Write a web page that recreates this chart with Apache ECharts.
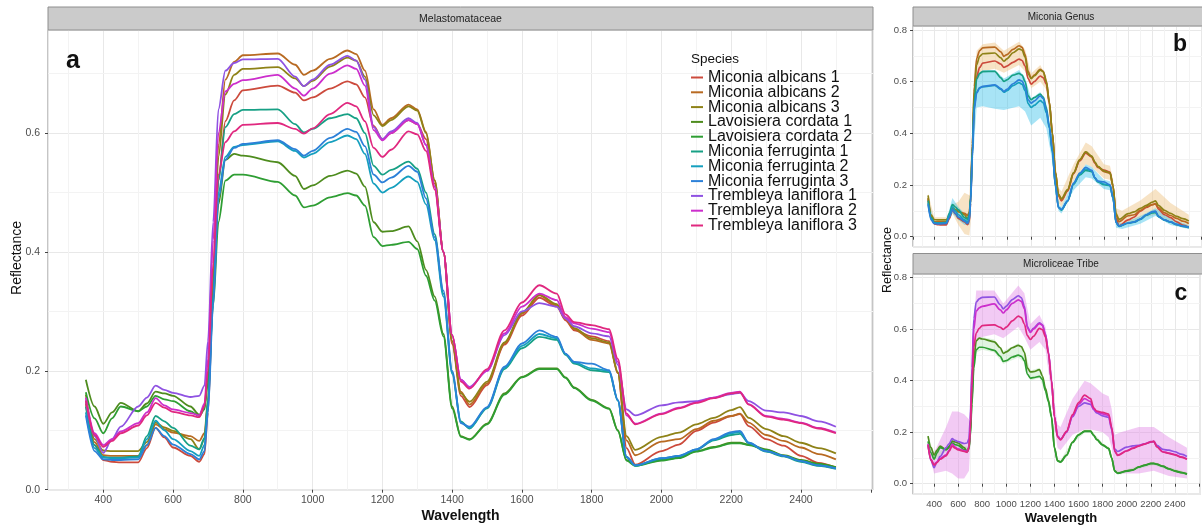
<!DOCTYPE html>
<html><head><meta charset="utf-8">
<script src="https://cdn.jsdelivr.net/npm/echarts@6/dist/echarts.min.js"></script>
<style>html,body{margin:0;padding:0;background:#fff}#c{width:1202px;height:527px}</style>
</head><body><div id="c"></div>
<script>
// ---------- DATA ----------
const wavelengths = [350,375,400,425,450,500,525,550,575,600,650,675,690,700,715,730,750,775,800,900,950,975,1000,1050,1100,1125,1150,1175,1200,1225,1275,1300,1325,1350,1375,1400,1425,1450,1500,1550,1600,1650,1700,1725,1750,1800,1850,1875,1900,1925,2000,2050,2100,2150,2200,2225,2250,2300,2350,2400,2450,2500];

const speciesNames = ['Miconia albicans 1','Miconia albicans 2','Miconia albicans 3','Lavoisiera cordata 1','Lavoisiera cordata 2','Miconia ferruginta 1','Miconia ferruginta 2','Miconia ferruginta 3','Trembleya laniflora 1','Trembleya laniflora 2','Trembleya laniflora 3'];
const speciesColors = ['#CC4A3C','#B86A22','#8E8217','#4E8C1E','#2E9E33','#17A085','#159FBE','#2C80D8','#8F52E2','#CC2ECC','#E0287F'];

const micAlb1 = [0.145,0.075,0.050,0.047,0.046,0.046,0.070,0.104,0.088,0.071,0.057,0.047,0.060,0.130,0.330,0.520,0.620,0.655,0.672,0.680,0.668,0.655,0.660,0.675,0.687,0.682,0.660,0.612,0.590,0.600,0.622,0.615,0.590,0.515,0.400,0.245,0.158,0.139,0.176,0.244,0.293,0.323,0.308,0.285,0.268,0.258,0.250,0.196,0.070,0.042,0.065,0.076,0.099,0.113,0.124,0.127,0.107,0.085,0.074,0.057,0.045,0.037];
const micAlb2 = [0.150,0.080,0.058,0.057,0.057,0.057,0.075,0.110,0.102,0.096,0.090,0.082,0.095,0.150,0.360,0.580,0.690,0.720,0.731,0.734,0.715,0.698,0.705,0.725,0.739,0.733,0.705,0.640,0.614,0.625,0.648,0.640,0.602,0.521,0.400,0.250,0.165,0.143,0.179,0.246,0.296,0.327,0.310,0.287,0.270,0.252,0.246,0.196,0.083,0.058,0.081,0.085,0.102,0.116,0.124,0.128,0.113,0.092,0.082,0.071,0.060,0.051];
const micAlb3 = [0.160,0.085,0.066,0.065,0.065,0.065,0.080,0.113,0.105,0.099,0.085,0.068,0.085,0.145,0.350,0.560,0.665,0.698,0.708,0.711,0.692,0.679,0.688,0.712,0.727,0.722,0.695,0.630,0.612,0.622,0.645,0.638,0.600,0.520,0.400,0.250,0.162,0.148,0.182,0.248,0.298,0.328,0.312,0.290,0.272,0.255,0.248,0.198,0.090,0.067,0.089,0.096,0.110,0.121,0.134,0.139,0.121,0.102,0.090,0.079,0.070,0.061];
const lavCor1 = [0.185,0.140,0.111,0.130,0.146,0.132,0.145,0.165,0.162,0.158,0.140,0.126,0.140,0.190,0.330,0.480,0.555,0.565,0.562,0.551,0.528,0.506,0.512,0.528,0.537,0.532,0.510,0.450,0.434,0.435,0.443,0.418,0.370,0.325,0.262,0.140,0.090,0.085,0.111,0.162,0.190,0.204,0.204,0.189,0.172,0.151,0.137,0.100,0.050,0.041,0.050,0.054,0.065,0.072,0.079,0.079,0.076,0.068,0.058,0.050,0.044,0.038];
const lavCor2 = [0.164,0.120,0.095,0.120,0.140,0.132,0.140,0.158,0.152,0.149,0.132,0.124,0.135,0.180,0.310,0.450,0.520,0.530,0.530,0.518,0.495,0.475,0.478,0.492,0.499,0.495,0.478,0.425,0.410,0.412,0.417,0.405,0.360,0.318,0.258,0.137,0.089,0.084,0.110,0.160,0.189,0.203,0.203,0.188,0.171,0.150,0.136,0.099,0.049,0.040,0.049,0.053,0.064,0.071,0.078,0.078,0.075,0.067,0.057,0.049,0.043,0.037];
const micFer1 = [0.140,0.075,0.055,0.054,0.054,0.056,0.090,0.124,0.115,0.104,0.074,0.068,0.087,0.150,0.330,0.520,0.610,0.632,0.639,0.640,0.615,0.601,0.607,0.625,0.632,0.625,0.600,0.545,0.530,0.538,0.552,0.540,0.500,0.430,0.330,0.198,0.115,0.103,0.137,0.203,0.238,0.257,0.252,0.227,0.212,0.201,0.198,0.150,0.055,0.040,0.052,0.056,0.067,0.083,0.092,0.094,0.078,0.064,0.056,0.047,0.040,0.035];
const micFer2 = [0.130,0.070,0.054,0.053,0.053,0.054,0.085,0.116,0.100,0.085,0.065,0.057,0.075,0.140,0.320,0.500,0.560,0.577,0.580,0.586,0.570,0.559,0.565,0.585,0.596,0.590,0.565,0.515,0.500,0.508,0.527,0.518,0.480,0.420,0.325,0.195,0.113,0.104,0.138,0.205,0.242,0.262,0.255,0.228,0.214,0.204,0.200,0.150,0.055,0.041,0.053,0.057,0.068,0.084,0.095,0.097,0.079,0.065,0.057,0.048,0.041,0.036];
const micFer3 = [0.125,0.065,0.051,0.050,0.050,0.051,0.075,0.104,0.090,0.076,0.060,0.051,0.065,0.130,0.310,0.490,0.555,0.575,0.582,0.588,0.573,0.562,0.570,0.592,0.607,0.602,0.578,0.530,0.517,0.525,0.545,0.535,0.490,0.425,0.335,0.200,0.112,0.106,0.139,0.207,0.246,0.268,0.257,0.229,0.215,0.212,0.201,0.151,0.055,0.041,0.053,0.057,0.068,0.085,0.097,0.099,0.079,0.065,0.057,0.048,0.041,0.036];
const treLan1 = [0.150,0.090,0.062,0.085,0.106,0.140,0.155,0.175,0.168,0.163,0.156,0.158,0.175,0.250,0.450,0.640,0.705,0.718,0.724,0.725,0.695,0.679,0.690,0.715,0.730,0.722,0.690,0.610,0.590,0.603,0.625,0.617,0.580,0.510,0.400,0.260,0.185,0.173,0.200,0.260,0.300,0.314,0.308,0.288,0.275,0.263,0.258,0.210,0.135,0.125,0.142,0.147,0.149,0.155,0.161,0.163,0.149,0.133,0.130,0.124,0.115,0.106];
const treLan2 = [0.155,0.095,0.075,0.085,0.098,0.112,0.130,0.154,0.142,0.135,0.129,0.125,0.145,0.220,0.420,0.600,0.670,0.683,0.689,0.698,0.675,0.663,0.675,0.700,0.714,0.708,0.680,0.605,0.588,0.600,0.622,0.615,0.580,0.510,0.400,0.260,0.185,0.172,0.200,0.263,0.308,0.330,0.319,0.290,0.280,0.271,0.265,0.215,0.125,0.111,0.128,0.138,0.147,0.155,0.163,0.165,0.144,0.124,0.119,0.113,0.104,0.096];
const treLan3 = [0.150,0.092,0.072,0.082,0.095,0.108,0.125,0.146,0.138,0.131,0.125,0.122,0.140,0.200,0.380,0.530,0.585,0.603,0.614,0.617,0.607,0.599,0.608,0.632,0.651,0.645,0.620,0.575,0.560,0.572,0.603,0.598,0.570,0.505,0.400,0.260,0.182,0.170,0.203,0.268,0.315,0.344,0.330,0.295,0.282,0.277,0.270,0.220,0.128,0.110,0.127,0.137,0.146,0.154,0.162,0.164,0.143,0.123,0.118,0.112,0.103,0.095];

// ribbons (panels b and c)
const bandWavelengths = [350,400,500,550,600,650,690,700,720,750,800,900,975,1100,1150,1200,1275,1325,1375,1400,1425,1450,1550,1650,1700,1800,1850,1875,1900,1950,2100,2225,2350,2500];
const albLower = [0.135,0.050,0.045,0.090,0.045,0.010,0.005,0.050,0.330,0.600,0.640,0.650,0.635,0.665,0.640,0.575,0.600,0.570,0.370,0.220,0.130,0.115,0.215,0.280,0.270,0.225,0.220,0.170,0.055,0.040,0.070,0.085,0.060,0.035];
const albUpper = [0.168,0.075,0.075,0.125,0.135,0.170,0.160,0.250,0.500,0.720,0.745,0.752,0.720,0.755,0.725,0.632,0.665,0.620,0.430,0.280,0.190,0.175,0.280,0.365,0.350,0.280,0.275,0.220,0.110,0.100,0.140,0.185,0.130,0.085];
const ferLower = [0.120,0.045,0.045,0.090,0.065,0.045,0.045,0.090,0.300,0.500,0.505,0.495,0.490,0.505,0.485,0.430,0.460,0.420,0.290,0.170,0.100,0.090,0.180,0.230,0.225,0.185,0.180,0.130,0.035,0.030,0.050,0.080,0.045,0.030];
const ferUpper = [0.145,0.060,0.062,0.150,0.115,0.090,0.090,0.170,0.450,0.625,0.645,0.645,0.612,0.645,0.615,0.535,0.560,0.510,0.340,0.215,0.125,0.115,0.215,0.280,0.270,0.220,0.215,0.165,0.065,0.050,0.080,0.110,0.070,0.045];
const treLower = [0.135,0.040,0.050,0.040,0.020,0.020,0.050,0.150,0.380,0.550,0.570,0.580,0.565,0.610,0.570,0.520,0.550,0.520,0.350,0.220,0.140,0.130,0.190,0.210,0.210,0.200,0.180,0.140,0.050,0.040,0.040,0.050,0.030,0.020];
const treUpper = [0.170,0.120,0.220,0.280,0.280,0.270,0.250,0.300,0.550,0.750,0.750,0.750,0.700,0.770,0.740,0.620,0.655,0.610,0.450,0.320,0.230,0.220,0.330,0.400,0.390,0.350,0.340,0.290,0.190,0.200,0.220,0.220,0.180,0.140];
const lavLower = [0.158,0.090,0.125,0.150,0.142,0.125,0.128,0.170,0.360,0.510,0.520,0.510,0.465,0.490,0.470,0.400,0.410,0.355,0.250,0.130,0.085,0.078,0.155,0.197,0.197,0.145,0.130,0.095,0.044,0.036,0.058,0.072,0.051,0.032];
const lavUpper = [0.190,0.115,0.140,0.170,0.165,0.145,0.145,0.200,0.420,0.565,0.570,0.560,0.515,0.545,0.520,0.440,0.450,0.375,0.268,0.148,0.095,0.092,0.168,0.210,0.210,0.157,0.143,0.105,0.056,0.048,0.070,0.085,0.064,0.044];

// tick / grid positions
const xMinorTicks = [300,500,700,900,1100,1300,1500,1700,1900,2100,2300,2500];
const yMinorTicks = [0.1,0.3,0.5,0.7];
const xLabelMax = 2400;

// ---------- CHART ----------
const speciesValues = [micAlb1,micAlb2,micAlb3,lavCor1,lavCor2,micFer1,micFer2,micFer3,treLan1,treLan2,treLan3];
const F = 'Liberation Sans, Arial, Helvetica, sans-serif';

function lineSeries(idx, gi, w){
  const c = speciesColors[idx];
  return {type:'line', name:speciesNames[idx], xAxisIndex:gi, yAxisIndex:gi,
    data: wavelengths.map((x,i)=>[x, speciesValues[idx][i]]),
    symbol:'none', showSymbol:false, smooth:0.3, smoothMonotone:'x',
    lineStyle:{color:c, width:w}, itemStyle:{color:c}, z:3, silent:true};
}
function bandSeries(gi, lower, upper, color, opacity){
  return {type:'custom', xAxisIndex:gi, yAxisIndex:gi, z:1, silent:true,
    data: bandWavelengths.map((x,i)=>[x, lower[i], upper[i]]),
    encode:{x:0, y:[1,2]},
    renderItem:function(params, api){
      if (params.dataIndex !== 0) return null;
      const top = bandWavelengths.map((x,i)=>api.coord([x, upper[i]]));
      const bot = bandWavelengths.map((x,i)=>api.coord([x, lower[i]])).reverse();
      return {type:'polygon', shape:{points: top.concat(bot)},
        style:{fill:color, opacity:opacity}};
    }};
}
function minorGrid(gi){
  return {type:'line', name:'minor'+gi, xAxisIndex:gi, yAxisIndex:gi, data:[], silent:true, z:0,
    markLine:{silent:true, symbol:'none', z:0, animation:false, label:{show:false},
      lineStyle:{color:'#f3f3f3', width:1, type:'solid'},
      data:[...xMinorTicks.map(v=>({xAxis:v})), ...yMinorTicks.map(v=>({yAxis:v}))]}};
}

const series = [minorGrid(0), minorGrid(1), minorGrid(2)];
// panel a
for (let i=0;i<11;i++) series.push(lineSeries(i,0,1.8));
// panel b : Miconia
series.push(bandSeries(1,albLower,albUpper,'#F0C88C',0.5));
series.push(bandSeries(1,ferLower,ferUpper,'#3FC3EC',0.45));
[0,1,2,5,6,7].forEach(i=>series.push(lineSeries(i,1,1.7)));
// panel c : Microliceae
series.push(bandSeries(2,treLower,treUpper,'#E38AE6',0.45));
series.push(bandSeries(2,lavLower,lavUpper,'#9ADB9A',0.3));
[3,4,8,9,10].forEach(i=>series.push(lineSeries(i,2,1.7)));

function xAxis(gi, min, max, showLabel, fs){
  return {type:'value', gridIndex:gi, min:min, max:max, minInterval:200, maxInterval:200, splitNumber:12,
    axisLine:{show:false}, axisTick:{show:true, length:3, lineStyle:{color:'#444'}},
    axisLabel:{show:showLabel, fontSize:fs, color:'#4d4d4d', fontFamily:F, margin:5, showMinLabel:false, showMaxLabel:false,
      formatter:v=>(v>=300 && v<=xLabelMax) ? String(Math.round(v)) : ''},
    splitLine:{show:true, lineStyle:{color:'#e8e8e8', width:1}}};
}
function yAxis(gi, min, max, fs, margin, showMin){
  return {type:'value', gridIndex:gi, min:min, max:max, minInterval:0.2, maxInterval:0.2, splitNumber:4,
    axisLine:{show:false}, axisTick:{show:true, length:3, lineStyle:{color:'#444'}},
    axisLabel:{fontSize:fs, color:'#4d4d4d', fontFamily:F, margin:margin, showMinLabel:showMin, showMaxLabel:false,
      formatter:v=>v.toFixed(1)},
    splitLine:{show:true, lineStyle:{color:'#e8e8e8', width:1}}};
}

function txt(x,y,text,fs,opts){
  opts = opts||{};
  return {type:'text', x:x, y:y, rotation:opts.rot||0, z:10,
    style:{text:text, fontSize:fs, fontFamily:F, fontWeight:opts.bold?'bold':'normal',
      fill:opts.color||'#111', align:opts.align||'center', verticalAlign:'middle'}};
}
function strip(x,y,w,h){
  return {type:'rect', shape:{x:x,y:y,width:w,height:h}, z:5,
    style:{fill:'#cbcbcb', stroke:'#8e8e8e', lineWidth:1}};
}

const option = {
  animation:false,
  backgroundColor:'#ffffff',
  grid:[
    {left:48, top:30, width:825, height:459.7, show:true, borderColor:'#8a8a8a', borderWidth:1, backgroundColor:'transparent'},
    {left:913, top:26, width:296, height:220.7, show:true, borderColor:'#8a8a8a', borderWidth:1, backgroundColor:'transparent'},
    {left:913, top:274, width:296, height:220.3, show:true, borderColor:'#8a8a8a', borderWidth:1, backgroundColor:'transparent'}
  ],
  xAxis:[ xAxis(0,241.5,2606.4,true,10.5), xAxis(1,225.2,2609,false,9.5), xAxis(2,225.2,2609,true,9.5) ],
  yAxis:[ yAxis(0,0,0.7735,10.5,8,true), yAxis(1,-0.0387,0.8155,9.5,6,false), yAxis(2,-0.0412,0.8144,9.5,6,false) ],
  legend:{orient:'vertical', left:691, top:69.5, padding:0, itemWidth:12, itemHeight:2, itemGap:-1.2, icon:'rect',
    selectedMode:false, data:speciesNames,
    textStyle:{fontSize:16, lineHeight:14.8, color:'#111', fontFamily:F}},
  graphic:[
    strip(48,7,825,23), strip(913,7,300,19), strip(913,253.5,300,20.5),
    txt(460.5,18.7,'Melastomataceae',10.5,{color:'#222'}),
    txt(1061,16.8,'Miconia Genus',10,{color:'#222'}),
    txt(1061,264,'Microliceae Tribe',10,{color:'#222'}),
    txt(73,61,'a',25,{bold:true}),
    txt(1180,45,'b',23,{bold:true}),
    txt(1181,294,'c',23,{bold:true}),
    txt(17,258,'Reflectance',14,{rot:Math.PI/2}),
    txt(888,260,'Reflectance',12.5,{rot:Math.PI/2}),
    txt(460.5,516.5,'Wavelength',14,{bold:true}),
    txt(1061,518,'Wavelength',13,{bold:true}),
    txt(691,59,'Species',13.5,{align:'left'})
  ],
  series:series
};
const chart = echarts.init(document.getElementById('c'), null, {renderer:'canvas'});
chart.setOption(option);
</script>
</body></html>
